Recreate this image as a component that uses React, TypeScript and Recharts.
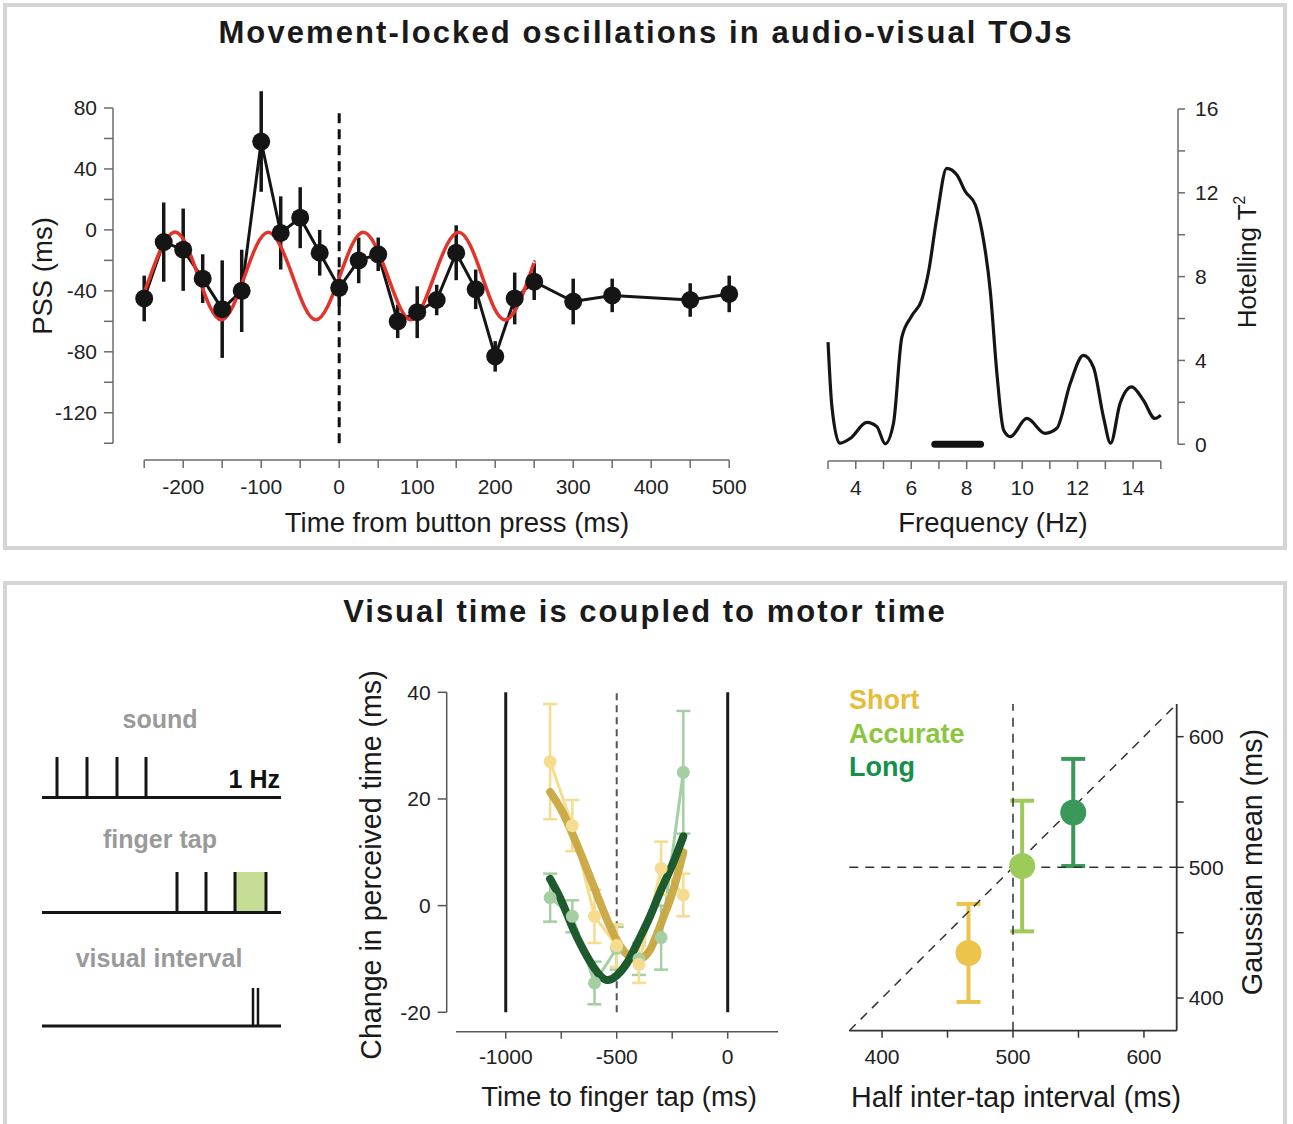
import React from 'react';
import { ComposedChart, Line, XAxis, YAxis, ErrorBar, ReferenceLine, Scatter } from 'recharts';

const FONT = '"Liberation Sans", Arial, Helvetica, sans-serif';

// ---------- Panel A: PSS vs time from button press ----------
const pssTime = [-250, -225, -200, -175, -150, -125, -100, -75, -50, -25, 0, 25, 50, 75, 100, 125, 150, 175, 200, 225, 250, 300, 350, 450, 500];
const pssMean = [-45, -8, -13, -32, -52, -40, 58, -2, 8, -15, -38, -20, -16, -60, -54, -46, -15, -39, -83, -45, -34, -47, -43, -46, -42];
const pssErr = [15, 26, 27, 16, 32, 27, 33, 24, 20, 15, 12, 15, 11, 11, 17, 10, 18, 13, 10, 17, 12, 15, 11, 11, 12];
const fitTime = [-250, -242, -212, -181, -151, -121, -91, -60, -30, 1, 31, 62, 92, 122, 153, 183, 214, 244, 250];
const fitPss = [-41, -30, -1.5, -30, -59, -30, -1.5, -30, -59, -30, -1.5, -30, -59, -30, -1.5, -30, -59, -30, -21];
const pssXTicks = [-250, -200, -150, -100, -50, 0, 50, 100, 150, 200, 250, 300, 350, 400, 450, 500];
const pssYTicks = [-140, -120, -100, -80, -60, -40, -20, 0, 20, 40, 60, 80];

// ---------- Panel B: Hotelling T2 spectrum ----------
const freqHz = [3.0, 3.14, 3.42, 3.8, 4.4, 4.76, 5.06, 5.36, 5.66, 6.02, 6.38, 6.63, 6.92, 7.28, 7.65, 7.95, 8.31, 8.55, 8.85, 9.09, 9.33, 9.57, 10.17, 10.83, 11.25, 11.73, 12.21, 12.57, 12.93, 13.19, 13.53, 13.95, 14.37, 14.79, 15.0];
const hotT2 = [4.87, 1.79, 0.05, 0.28, 1.04, 0.84, 0.02, 1.0, 5.1, 6.13, 6.9, 8.27, 10.8, 13.17, 12.85, 12.06, 11.43, 10.17, 7.32, 3.37, 0.68, 0.36, 1.23, 0.52, 0.76, 2.89, 4.24, 3.68, 1.31, 0.05, 1.94, 2.74, 2.1, 1.23, 1.39];
const sigBand = [6.85, 8.5];
const freqTicks = [3, 4, 5, 6, 7, 8, 9, 10, 11, 12, 13, 14, 15];
const t2Ticks = [0, 2, 4, 6, 8, 10, 12, 14, 16];

// ---------- Panel D: change in perceived time ----------
const tapTime = [-800, -700, -600, -500, -400, -300, -200];
const shortMean = [27, 15, -2, -7.5, -11, 7, 2];
const shortErr = [10.8, 4.8, 5, 4, 3.5, 5, 4];
const longMean = [1.5, -2, -14.5, -8, -10, -6, 25];
const longErr = [4.5, 3, 4, 4, 3, 6, 11.5];
const fitTapTime = [-800, -750, -700, -650, -600, -550, -500, -450, -400, -350, -300, -250, -200];
const shortFit = [21.3, 18, 13.5, 8.5, 3.2, -2, -6.5, -9.3, -10, -8.3, -3.3, 2.3, 10];
const longFit = [5, 1, -4, -8.3, -11.8, -13.9, -13.1, -10.5, -6.4, -2, 3, 7.6, 13];
const tapXTicks = [-1000, -750, -500, -250, 0];
const tapYTicks = [-20, 0, 20, 40];

// ---------- Panel E: Gaussian mean vs half inter-tap interval ----------
const groups = ['Short', 'Accurate', 'Long'];
const halfInterval = [466, 507, 546];
const gaussMean = [434.5, 501, 542];
const gaussErr = [37.5, 50, 41];
const groupColors = ['#ecc44c', '#9ccb5c', '#3a995a'];
const legendColors = ['#e6bd3a', '#8cc63f', '#13904a'];
const gaussTicks = [400, 450, 500, 550, 600];

// ---------- schematic ----------
const soundTicks = [57, 87, 117, 146];
const tapTicks = [177, 206, 235, 266];
const visualTicks = [253, 258];

const pssRows = pssTime.map((t, i) => ({ t, v: pssMean[i], e: pssErr[i] }));
const fitRows = fitTime.map((t, i) => ({ t, v: fitPss[i] }));
const hotRows = freqHz.map((t, i) => ({ t, v: hotT2[i] }));
const sigRows = sigBand.map((t) => ({ t, v: 0 }));
const shortRows = tapTime.map((t, i) => ({ t, v: shortMean[i], e: shortErr[i] }));
const longRows = tapTime.map((t, i) => ({ t, v: longMean[i], e: longErr[i] }));
const shortFitRows = fitTapTime.map((t, i) => ({ t, v: shortFit[i] }));
const longFitRows = fitTapTime.map((t, i) => ({ t, v: longFit[i] }));

const tickStyle = { fontFamily: FONT, fontSize: 21, fill: '#222' };

type TxtProps = { x: number; y: number; children: React.ReactNode; size?: number; bold?: boolean; color?: string; rotate?: boolean; align?: 'center' | 'left' | 'right'; ls?: number };
const Txt = ({ x, y, children, size = 27.5, bold = false, color = '#1a1a1a', rotate = false, align = 'center', ls = 0 }: TxtProps) => {
  const tx = align === 'center' ? '-50%' : align === 'right' ? '-100%' : '0';
  const style: React.CSSProperties = {
    position: 'absolute', left: x, top: y, fontFamily: FONT, fontSize: size, fontWeight: bold ? 700 : 400,
    color, lineHeight: 1, whiteSpace: 'nowrap', letterSpacing: ls,
    transform: rotate ? 'translate(-50%,-50%) rotate(-90deg)' : `translate(${tx},-50%)`,
  };
  return <div style={style}>{children}</div>;
};

const abs = (left: number, top: number): React.CSSProperties => ({ position: 'absolute', left, top });

function PanelA() {
  const ax = '#6b6b6b';
  return (
    <div style={abs(0, 0)}>
      <ComposedChart width={800} height={550} margin={{ top: 85.14, left: 53, right: 55.2, bottom: 50 }}>
        <XAxis dataKey="t" type="number" domain={[-290, 520]} allowDataOverflow ticks={pssXTicks} interval={0}
          tickFormatter={(v: number) => (v % 100 === 0 ? String(v) : '')} axisLine={false}
          tickLine={{ stroke: ax, strokeWidth: 1.5 }} tickSize={8} tickMargin={11} tick={tickStyle} height={40} />
        <YAxis type="number" domain={[-151, 95]} allowDataOverflow ticks={pssYTicks} interval={0}
          tickFormatter={(v: number) => (v % 40 === 0 ? String(v) : '')} axisLine={false}
          tickLine={{ stroke: ax, strokeWidth: 1.5 }} tickSize={9} tickMargin={7} tick={tickStyle} width={60} />
        <ReferenceLine segment={[{ x: -290, y: -140 }, { x: -290, y: 80 }]} stroke={ax} strokeWidth={1.5} ifOverflow="visible" />
        <ReferenceLine segment={[{ x: -250, y: -151 }, { x: 500, y: -151 }]} stroke={ax} strokeWidth={1.5} ifOverflow="visible" />
        <ReferenceLine segment={[{ x: 0, y: -140 }, { x: 0, y: 80 }]} stroke="#111" strokeWidth={3} strokeDasharray="10 6" ifOverflow="visible" />
        <Line data={pssRows} dataKey="v" type="linear" stroke="#151515" strokeWidth={3} isAnimationActive={false}
          dot={{ r: 9, fill: '#151515', stroke: 'none' }} activeDot={false}>
          <ErrorBar dataKey="e" width={0} strokeWidth={3.5} stroke="#151515" isAnimationActive={false} />
        </Line>
        <Line data={fitRows} dataKey="v" type="natural" stroke="#e3342b" strokeWidth={3.5} dot={false} activeDot={false} isAnimationActive={false} />
      </ComposedChart>
    </div>
  );
}

function PanelB() {
  const ax = '#6b6b6b';
  return (
    <div style={abs(780, 0)}>
      <ComposedChart width={500} height={550} margin={{ top: 109, left: 42.5, right: 42, bottom: 49 }}>
        <XAxis dataKey="t" type="number" domain={[2.8, 15.62]} allowDataOverflow ticks={freqTicks} interval={0}
          tickFormatter={(v: number) => (v % 2 === 0 ? String(v) : '')} axisLine={false}
          tickLine={{ stroke: ax, strokeWidth: 1.5 }} tickSize={8} tickMargin={11} tick={tickStyle} height={40} />
        <YAxis orientation="right" type="number" domain={[-0.8, 16]} allowDataOverflow ticks={t2Ticks} interval={0}
          tickFormatter={(v: number) => (v % 4 === 0 ? String(v) : '')} axisLine={false}
          tickLine={{ stroke: ax, strokeWidth: 1.5 }} tickSize={7} tickMargin={10} tick={tickStyle} width={60} />
        <ReferenceLine segment={[{ x: 15.62, y: 0 }, { x: 15.62, y: 16 }]} stroke={ax} strokeWidth={1.5} ifOverflow="visible" />
        <ReferenceLine segment={[{ x: 3, y: -0.8 }, { x: 15, y: -0.8 }]} stroke={ax} strokeWidth={1.5} ifOverflow="visible" />
        <Line data={hotRows} dataKey="v" type="monotone" stroke="#151515" strokeWidth={3.2} dot={false} activeDot={false} isAnimationActive={false} />
        <Line data={sigRows} dataKey="v" type="linear" stroke="#111" strokeWidth={7} strokeLinecap="round" dot={false} activeDot={false} isAnimationActive={false} />
      </ComposedChart>
    </div>
  );
}

function PanelD() {
  const ax = '#555';
  const lightGreen = '#a5cfa2';
  const lightYellow = '#f6dc8e';
  return (
    <div style={abs(340, 600)}>
      <ComposedChart width={460} height={520} margin={{ top: 92.3, left: 46.7, right: 22, bottom: 48.3 }}>
        <XAxis dataKey="t" type="number" domain={[-1266, 226.6]} allowDataOverflow ticks={tapXTicks} interval={0}
          tickFormatter={(v: number) => (v % 500 === 0 ? String(v) : '')} axisLine={false}
          tickLine={{ stroke: ax, strokeWidth: 1.5 }} tickSize={7} tickMargin={10} tick={tickStyle} height={40} />
        <YAxis type="number" domain={[-23.64, 40]} allowDataOverflow ticks={tapYTicks} interval={0}
          axisLine={false} tickLine={{ stroke: ax, strokeWidth: 1.5 }} tickSize={9} tickMargin={7} tick={tickStyle} width={60} />
        <ReferenceLine segment={[{ x: -1266, y: -20 }, { x: -1266, y: 40 }]} stroke={ax} strokeWidth={1.5} ifOverflow="visible" />
        <ReferenceLine segment={[{ x: -1224, y: -23.64 }, { x: 226.6, y: -23.64 }]} stroke={ax} strokeWidth={1.5} ifOverflow="visible" />
        <ReferenceLine segment={[{ x: -1000, y: -20 }, { x: -1000, y: 40 }]} stroke="#1a1a1a" strokeWidth={3} ifOverflow="visible" />
        <ReferenceLine segment={[{ x: 0, y: -20 }, { x: 0, y: 40 }]} stroke="#1a1a1a" strokeWidth={3} ifOverflow="visible" />
        <ReferenceLine segment={[{ x: -500, y: -20 }, { x: -500, y: 40 }]} stroke="#555" strokeWidth={2} strokeDasharray="7 5" ifOverflow="visible" />
        <Line data={longRows} dataKey="v" type="linear" stroke={lightGreen} strokeWidth={3} isAnimationActive={false}
          dot={{ r: 6.5, fill: lightGreen, stroke: 'none' }} activeDot={false}>
          <ErrorBar dataKey="e" width={7} strokeWidth={2.5} stroke={lightGreen} isAnimationActive={false} />
        </Line>
        <Line data={shortRows} dataKey="v" type="linear" stroke={lightYellow} strokeWidth={3} isAnimationActive={false}
          dot={{ r: 6.5, fill: lightYellow, stroke: 'none' }} activeDot={false}>
          <ErrorBar dataKey="e" width={7} strokeWidth={2.5} stroke={lightYellow} isAnimationActive={false} />
        </Line>
        <Line data={shortFitRows} dataKey="v" type="natural" stroke="#c8a43c" strokeOpacity={0.92} strokeWidth={8} strokeLinecap="round" dot={false} activeDot={false} isAnimationActive={false} />
        <Line data={longFitRows} dataKey="v" type="natural" stroke="#1d5a2d" strokeWidth={8} strokeLinecap="round" dot={false} activeDot={false} isAnimationActive={false} />
      </ComposedChart>
    </div>
  );
}

function PanelE() {
  const ax = '#333';
  return (
    <div style={abs(800, 600)}>
      <ComposedChart width={480} height={520} margin={{ top: 104, left: 49.3, right: 43.3, bottom: 49.3 }}>
        <XAxis dataKey="x" type="number" domain={[375, 625]} allowDataOverflow ticks={gaussTicks} interval={0}
          tickFormatter={(v: number) => (v % 100 === 0 ? String(v) : '')}
          axisLine={{ stroke: ax, strokeWidth: 1.8 }} tickLine={{ stroke: ax, strokeWidth: 1.5 }} tickSize={7} tickMargin={11} tick={tickStyle} height={40} />
        <YAxis dataKey="y" orientation="right" type="number" domain={[375, 625]} allowDataOverflow ticks={gaussTicks} interval={0}
          tickFormatter={(v: number) => (v % 100 === 0 ? String(v) : '')}
          axisLine={{ stroke: ax, strokeWidth: 1.8 }} tickLine={{ stroke: ax, strokeWidth: 1.5 }} tickSize={7} tickMargin={5} tick={tickStyle} width={60} />
        {groups.map((g, i) => (
          <Scatter key={g} name={g} data={[{ x: halfInterval[i], y: gaussMean[i], e: gaussErr[i] }]} dataKey="y"
            fill={groupColors[i]} isAnimationActive={false}
            shape={(p: any) => <circle cx={p.cx} cy={p.cy} r={13} fill={groupColors[i]} />}>
            <ErrorBar dataKey="e" direction="y" width={12} strokeWidth={4} stroke={groupColors[i]} isAnimationActive={false} />
          </Scatter>
        ))}
        <ReferenceLine segment={[{ x: 375, y: 375 }, { x: 625, y: 625 }]} stroke="#333" strokeWidth={1.5} strokeDasharray="9 7" ifOverflow="visible" />
        <ReferenceLine segment={[{ x: 375, y: 500 }, { x: 625, y: 500 }]} stroke="#333" strokeWidth={1.5} strokeDasharray="9 7" ifOverflow="visible" />
        <ReferenceLine segment={[{ x: 500, y: 375 }, { x: 500, y: 625 }]} stroke="#333" strokeWidth={1.5} strokeDasharray="9 7" ifOverflow="visible" />
      </ComposedChart>
    </div>
  );
}

function Schematic() {
  const rows = [
    { base: 797.5, top: 757, ticks: soundTicks, w: 3 },
    { base: 912.5, top: 872, ticks: tapTicks, w: 3 },
    { base: 1026, top: 988, ticks: visualTicks, w: 2.5 },
  ];
  return (
    <svg width={330} height={1124} style={abs(0, 0)}>
      <rect x={235} y={872} width={31} height={40.5} fill="#c6dd95" />
      {rows.map((r, i) => (
        <g key={i}>
          <line x1={42} x2={281} y1={r.base} y2={r.base} stroke="#151515" strokeWidth={3} />
          {r.ticks.map((tx) => (
            <line key={tx} x1={tx} x2={tx} y1={r.top} y2={r.base} stroke="#151515" strokeWidth={r.w} />
          ))}
        </g>
      ))}
    </svg>
  );
}

export default function App() {
  return (
    <div style={{ position: 'absolute', left: 0, top: 0, width: 1293, height: 1124, overflow: 'hidden', background: '#fff' }}>
      <div style={{ position: 'absolute', left: 3, top: 3, width: 1284, height: 547, border: '4px solid #d5d5d5', boxSizing: 'border-box' }} />
      <div style={{ position: 'absolute', left: 3, top: 581, width: 1284, height: 560, border: '4px solid #d5d5d5', boxSizing: 'border-box' }} />

      <Txt x={646} y={32} size={31} bold ls={2.1}>Movement-locked oscillations in audio-visual TOJs</Txt>
      <Txt x={645} y={611} size={31} bold ls={2}>Visual time is coupled to motor time</Txt>

      <PanelA />
      <PanelB />
      <PanelD />
      <PanelE />
      <Schematic />

      <Txt x={43} y={276} rotate>PSS (ms)</Txt>
      <Txt x={457} y={523}>Time from button press (ms)</Txt>
      <Txt x={993} y={523}>Frequency (Hz)</Txt>
      <Txt x={1246} y={262} rotate size={26}>Hotelling T<span style={{ fontSize: '0.6em', verticalAlign: '0.75em' }}>2</span></Txt>

      <Txt x={371} y={865} rotate size={28.6}>Change in perceived time (ms)</Txt>
      <Txt x={619} y={1097}>Time to finger tap (ms)</Txt>
      <Txt x={1252} y={862} rotate size={28.7}>Gaussian mean (ms)</Txt>
      <Txt x={1016} y={1097} size={28.7}>Half inter-tap interval (ms)</Txt>

      {groups.map((g, i) => (
        <Txt key={g} x={849} y={700 + i * 33.5} align="left" bold size={27} color={legendColors[i]}>{g}</Txt>
      ))}

      <Txt x={160} y={719} bold size={25} color="#9a9a9a">sound</Txt>
      <Txt x={280} y={779} bold size={25} color="#111" align="right">1 Hz</Txt>
      <Txt x={160} y={839} bold size={25} color="#9a9a9a">finger tap</Txt>
      <Txt x={159} y={958} bold size={25} color="#9a9a9a">visual interval</Txt>
    </div>
  );
}
